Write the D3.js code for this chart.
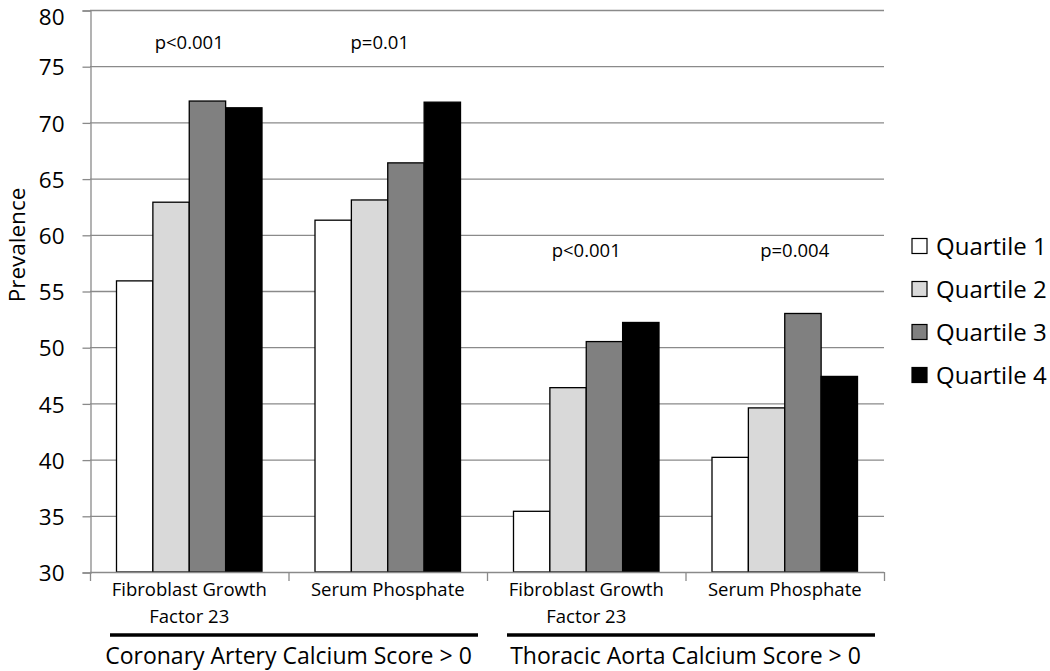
<!DOCTYPE html>
<html>
<head>
<meta charset="utf-8">
<script src="https://cdn.jsdelivr.net/npm/d3@7"></script>
<style>
  html, body { margin: 0; padding: 0; background: #fff; }
  svg { display: block; }
  text { font-family: "Open Sans", "Liberation Sans", sans-serif; fill: #000; }
</style>
</head>
<body>
<svg id="chart" width="1050" height="671"></svg>
<script>
// ---- data ----
const categories = ["FGF23_CAC", "SP_CAC", "FGF23_TAC", "SP_TAC"];
const categoryLabels = [["Fibroblast Growth", "Factor 23"], ["Serum Phosphate"], ["Fibroblast Growth", "Factor 23"], ["Serum Phosphate"]];
const seriesNames = ["Quartile 1", "Quartile 2", "Quartile 3", "Quartile 4"];
const quartile1 = [55.9, 61.3, 35.4, 40.2];
const quartile2 = [62.9, 63.1, 46.4, 44.6];
const quartile3 = [71.9, 66.4, 50.5, 53.0];
const quartile4 = [71.3, 71.8, 52.2, 47.4];
const pValues = ["p<0.001", "p=0.01", "p<0.001", "p=0.004"];
const pValueLevels = [77.1, 77.1, 58.6, 58.6];
const yTicks = [30, 35, 40, 45, 50, 55, 60, 65, 70, 75, 80];
const outcomeGroups = ["Coronary Artery Calcium Score > 0", "Thoracic Aorta Calcium Score > 0"];
const outcomeMembers = [[0, 1], [2, 3]];
const seriesColors = ["#ffffff", "#d9d9d9", "#808080", "#000000"];

const seriesValues = [quartile1, quartile2, quartile3, quartile4];

// ---- layout ----
const svg = d3.select("#chart");
const plot = { left: 90, right: 884, top: 10, bottom: 572 };

const x = d3.scaleBand().domain(categories).range([plot.left, plot.right]).paddingInner(0).paddingOuter(0);
const xInner = d3.scaleBand().domain(seriesNames).range([26.5, x.bandwidth() - 26.5]).padding(0);
const y = d3.scaleLinear().domain([30, 80]).range([plot.bottom, plot.top]);

const gridColor = "#8a8a8a";

// gridlines
svg.append("g").selectAll("line").data(yTicks.filter(t => t > 30)).join("line")
  .attr("x1", plot.left).attr("x2", plot.right)
  .attr("y1", d => y(d) + 0.5).attr("y2", d => y(d) + 0.5)
  .attr("stroke", gridColor).attr("stroke-width", 1.3);

// y axis
const yAxis = d3.axisLeft(y).tickValues(yTicks).tickSize(8).tickPadding(18).tickFormat(d3.format("d"));
const gy = svg.append("g").attr("transform", `translate(${plot.left + 0.5},0.5)`).call(yAxis);
gy.select(".domain").attr("stroke", gridColor).attr("stroke-width", 1.3);
gy.selectAll(".tick line").attr("stroke", gridColor).attr("stroke-width", 1.3);
gy.selectAll(".tick text").style("font-size", "22.5px").style("font-family", "'Open Sans', sans-serif")
  .attr("fill", "#000").attr("dy", d => d === 80 ? "0.62em" : "0.36em");

// bars
const groups = svg.append("g").selectAll("g").data(categories).join("g")
  .attr("transform", d => `translate(${x(d)},0)`);
groups.selectAll("rect").data((d, i) => seriesNames.map((s, j) => ({ s, j, v: seriesValues[j][i] }))).join("rect")
  .attr("x", d => xInner(d.s))
  .attr("width", xInner.bandwidth())
  .attr("y", d => y(d.v))
  .attr("height", d => y(30) - y(d.v))
  .attr("fill", d => seriesColors[d.j])
  .attr("stroke", "#000").attr("stroke-width", 1.3);

// x axis line
svg.append("line").attr("x1", plot.left).attr("x2", plot.right)
  .attr("y1", plot.bottom + 0.5).attr("y2", plot.bottom + 0.5)
  .attr("stroke", gridColor).attr("stroke-width", 1.3);

// category boundary ticks
const boundaries = categories.map(c => x(c)).concat([plot.right]);
svg.append("g").selectAll("line").data(boundaries).join("line")
  .attr("x1", d => d + 0.5).attr("x2", d => d + 0.5)
  .attr("y1", plot.bottom).attr("y2", plot.bottom + 9)
  .attr("stroke", gridColor).attr("stroke-width", 1.3);

// category labels
svg.append("g").selectAll("text").data(categories).join("text")
  .attr("text-anchor", "middle")
  .attr("x", d => x(d) + x.bandwidth() / 2)
  .attr("y", 596)
  .style("font-size", "18.5px")
  .each(function (d, i) {
    const t = d3.select(this);
    categoryLabels[i].forEach((line, k) => {
      t.append("tspan").attr("x", x(d) + x.bandwidth() / 2).attr("dy", k === 0 ? 0 : 27).text(line);
    });
  });

// p-values
svg.append("g").selectAll("text").data(categories).join("text")
  .attr("text-anchor", "middle")
  .attr("x", (d, i) => x(d) + x.bandwidth() / 2 + (i === 1 ? -8 : i === 3 ? 10 : 0))
  .attr("y", (d, i) => y(pValueLevels[i]))
  .attr("dy", "0.35em")
  .style("font-size", "18.5px")
  .text((d, i) => pValues[i]);

// outcome group lines + labels
outcomeGroups.forEach((g, i) => {
  const c0 = categories[outcomeMembers[i][0]];
  const c1 = categories[outcomeMembers[i][outcomeMembers[i].length - 1]];
  const x0 = x(c0) + 20, x1 = x(c1) + x.bandwidth() - 9;
  svg.append("line").attr("x1", x0).attr("x2", x1).attr("y1", 635).attr("y2", 635)
    .attr("stroke", "#000").attr("stroke-width", 3.5);
  svg.append("text").attr("text-anchor", "middle")
    .attr("x", (x(c0) + x(c1) + x.bandwidth()) / 2)
    .attr("y", 664)
    .style("font-size", "23px")
    .text(g);
});

// y label
svg.append("text").attr("text-anchor", "middle")
  .attr("transform", `translate(25,${y(55) - 46}) rotate(-90)`)
  .style("font-size", "22.5px")
  .text("Prevalence");

// legend
const legend = svg.append("g").selectAll("g").data(seriesNames).join("g")
  .attr("transform", (d, i) => `translate(912,${246 + i * 43})`);
legend.append("rect").attr("x", 0).attr("y", -7.5).attr("width", 15).attr("height", 15)
  .attr("fill", (d, i) => seriesColors[i]).attr("stroke", "#000").attr("stroke-width", 1.2);
legend.append("text").attr("x", 24).attr("y", 0).attr("dy", "0.36em")
  .style("font-size", "24px").text(d => d);
</script>
</body>
</html>
